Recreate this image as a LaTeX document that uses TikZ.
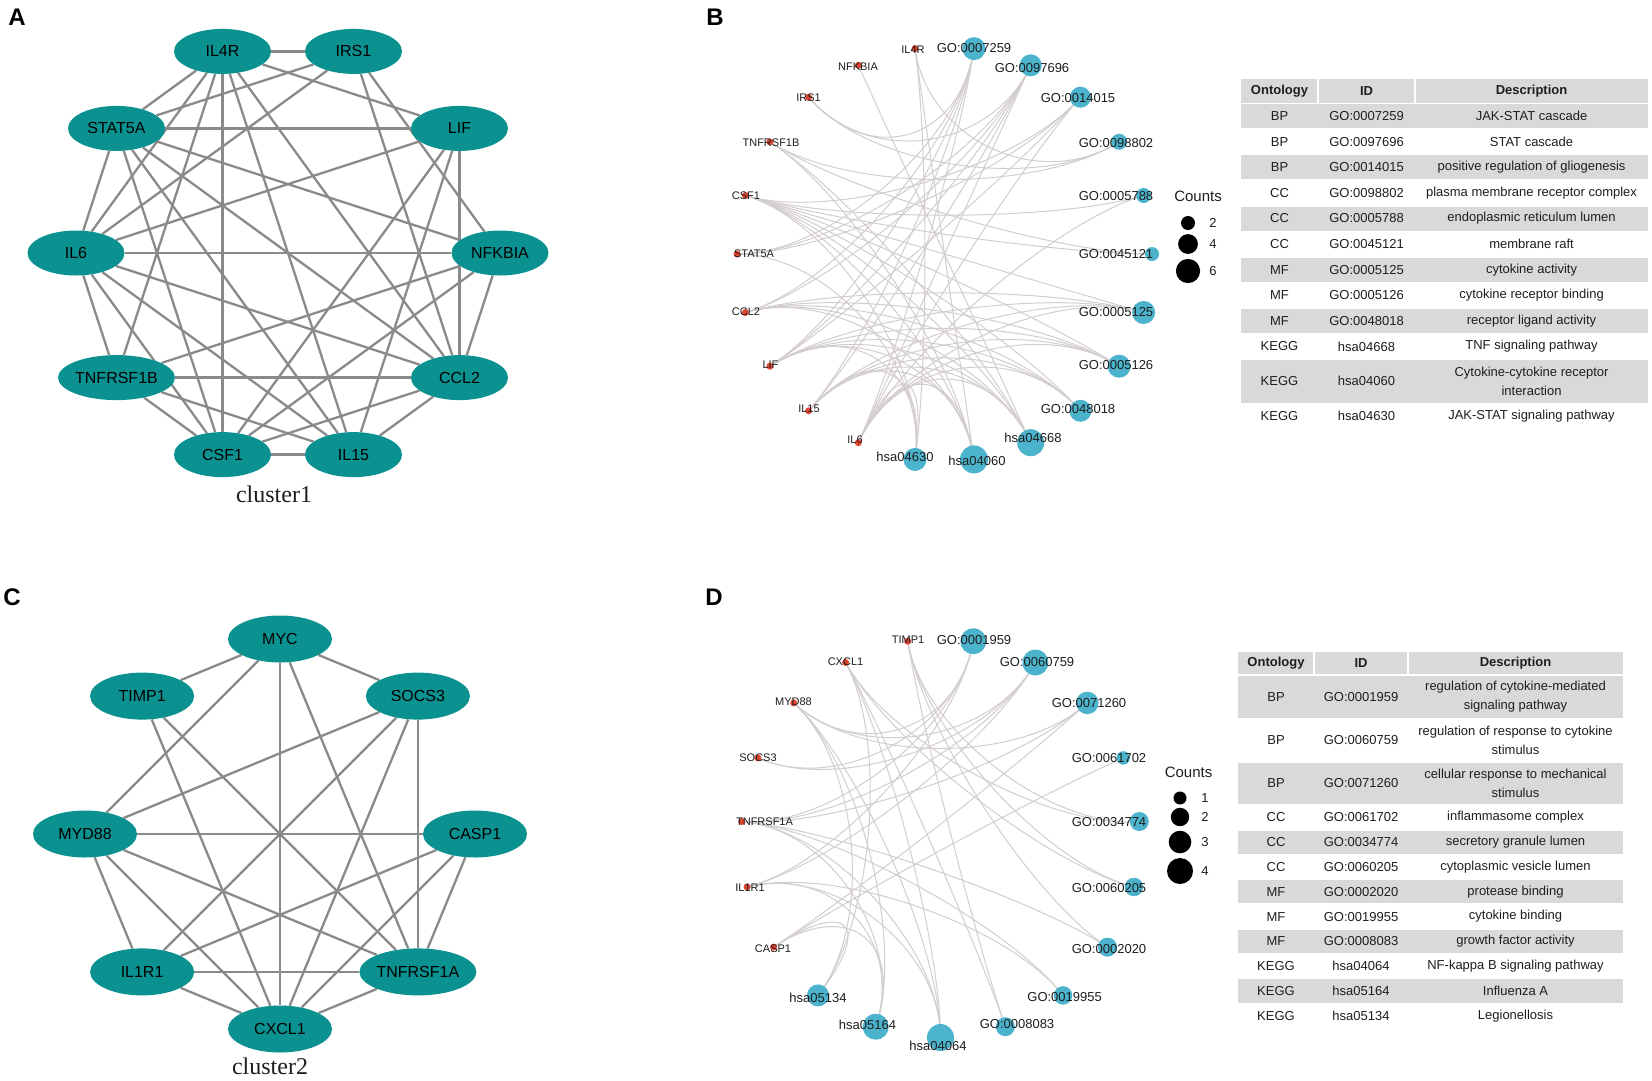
\documentclass[tikz,border=0pt]{standalone}
\usepackage{fontspec}
\setmainfont{Liberation Sans}
\newfontfamily\clusfont{Liberation Serif}
\usetikzlibrary{shapes.geometric,calc}
\pgfdeclarelayer{bg}
\pgfsetlayers{bg,main}
\definecolor{nodeteal}{HTML}{0A9190}
\definecolor{edgegray}{HTML}{8A8A8A}
\definecolor{arcgray}{HTML}{D3CDCD}
\definecolor{dotred}{HTML}{E2452F}
\definecolor{termblue}{HTML}{4CB3CC}
\definecolor{rowgray}{HTML}{D9D9D9}
\definecolor{txt}{HTML}{1E1E1E}
\begin{document}
\begin{tikzpicture}[x=1pt,y=-1pt,
  ppinode/.style={ellipse, fill=nodeteal, minimum width=97pt, minimum height=45pt, inner sep=0pt, font=\fontsize{16}{18}\selectfont},
  ppinodeC/.style={ppinode, minimum width=104pt, minimum height=47pt},
  ppiedge/.style={draw=edgegray, line width=2.3pt},
  gdot/.style={circle, fill=dotred, minimum size=7pt, inner sep=0pt},
  tdot/.style={circle, fill=termblue, inner sep=0pt, minimum size=#1},
  glab/.style={font=\fontsize{11}{13}\selectfont, inner sep=0pt, text=txt},
  tlab/.style={font=\fontsize{13}{15}\selectfont, inner sep=0pt, text=txt},
  arcedge/.style={draw=arcgray, line width=1pt},
  tcell/.style={font=\fontsize{13}{19}\selectfont, text=txt, align=center, inner sep=0pt},
  hcell/.style={tcell, font=\fontsize{13}{19}\selectfont\bfseries},
  plabel/.style={font=\fontsize{24}{26}\selectfont\bfseries, inner sep=0pt},
  cluslab/.style={font=\clusfont\fontsize{24}{26}\selectfont, inner sep=0pt, text=txt},
  legtitle/.style={font=\fontsize{15}{17}\selectfont, inner sep=0pt, text=txt},
  legnum/.style={font=\fontsize{13}{15}\selectfont, inner sep=0pt, text=txt},
  legdot/.style={circle, fill=black, inner sep=0pt, minimum size=#1}
]
\begin{pgfonlayer}{bg}
\path[use as bounding box, fill=white] (0,0) rectangle (1652,1080);
\end{pgfonlayer}

% ---------- panel letters ----------
\node[plabel] (LA) at (17,17) {A};
\node[plabel] (LB) at (715,17) {B};
\node[plabel] (LC) at (12,597) {C};
\node[plabel] (LD) at (714,597) {D};

% ---------- panel A ----------
\node[ppinode] (aIL4R) at (222.5,51.4) {IL4R};
\node[ppinode] (aIRS1) at (353.5,51.4) {IRS1};
\node[ppinode] (aLIF) at (459.5,128.4) {LIF};
\node[ppinode] (aNFKBIA) at (500,253) {NFKBIA};
\node[ppinode] (aCCL2) at (459.5,377.6) {CCL2};
\node[ppinode] (aIL15) at (353.5,454.6) {IL15};
\node[ppinode] (aCSF1) at (222.5,454.6) {CSF1};
\node[ppinode] (aTNFRSF1B) at (116.5,377.6) {TNFRSF1B};
\node[ppinode] (aIL6) at (76,253) {IL6};
\node[ppinode] (aSTAT5A) at (116.5,128.4) {STAT5A};
\node[cluslab] (clus1) at (274,494) {cluster1};
\begin{pgfonlayer}{bg}
\foreach \u/\v in {aIL4R/aIRS1, aIL4R/aLIF, aIL4R/aSTAT5A, aIL4R/aIL6, aIL4R/aTNFRSF1B, aIL4R/aCSF1, aIL4R/aIL15, aIL4R/aCCL2,
  aIRS1/aSTAT5A, aIRS1/aIL6, aIRS1/aCCL2, aIRS1/aNFKBIA,
  aSTAT5A/aLIF, aSTAT5A/aNFKBIA, aSTAT5A/aCCL2, aSTAT5A/aIL15, aSTAT5A/aCSF1, aSTAT5A/aIL6,
  aLIF/aIL6, aLIF/aCCL2, aLIF/aCSF1, aLIF/aIL15,
  aNFKBIA/aIL6, aNFKBIA/aTNFRSF1B, aNFKBIA/aCSF1, aNFKBIA/aCCL2,
  aIL6/aCCL2, aIL6/aIL15, aIL6/aCSF1, aIL6/aTNFRSF1B,
  aTNFRSF1B/aCCL2, aTNFRSF1B/aCSF1, aTNFRSF1B/aIL15,
  aCCL2/aCSF1, aCCL2/aIL15, aCSF1/aIL15}
  \draw[ppiedge] (\u) -- (\v);
\end{pgfonlayer}

% ---------- panel C ----------
\node[ppinodeC] (cMYC) at (280,639) {MYC};
\node[ppinodeC] (cSOCS3) at (417.9,696.1) {SOCS3};
\node[ppinodeC] (cCASP1) at (475,834) {CASP1};
\node[ppinodeC] (cTNFRSF1A) at (417.9,971.9) {TNFRSF1A};
\node[ppinodeC] (cCXCL1) at (280,1029) {CXCL1};
\node[ppinodeC] (cIL1R1) at (142.1,971.9) {IL1R1};
\node[ppinodeC] (cMYD88) at (85,834) {MYD88};
\node[ppinodeC] (cTIMP1) at (142.1,696.1) {TIMP1};
\node[cluslab] (clus2) at (270,1066) {cluster2};
\begin{pgfonlayer}{bg}
\foreach \u/\v in {cMYC/cTIMP1, cMYC/cSOCS3, cMYC/cMYD88, cMYC/cCXCL1, cMYC/cTNFRSF1A,
  cTIMP1/cCXCL1, cTIMP1/cTNFRSF1A,
  cSOCS3/cMYD88, cSOCS3/cIL1R1, cSOCS3/cCXCL1, cSOCS3/cTNFRSF1A,
  cMYD88/cCASP1, cMYD88/cTNFRSF1A, cMYD88/cCXCL1, cMYD88/cIL1R1,
  cCASP1/cIL1R1, cCASP1/cCXCL1, cCASP1/cTNFRSF1A,
  cIL1R1/cTNFRSF1A, cIL1R1/cCXCL1, cTNFRSF1A/cCXCL1}
  \draw[ppiedge] (\u) -- (\v);
\end{pgfonlayer}

% ---------- panel B network ----------
\coordinate (bc) at (944.5,254);
\node[gdot] (bIL4R) at (915.0,48.6) {};
\node[gdot] (bNFKBIA) at (858.3,65.3) {};
\node[gdot] (bIRS1) at (808.6,97.2) {};
\node[gdot] (bTNFRSF1B) at (769.9,141.8) {};
\node[gdot] (bCSF1) at (745.4,195.5) {};
\node[gdot] (bSTAT5A) at (737,254) {};
\node[gdot] (bCCL2) at (745.4,312.5) {};
\node[gdot] (bLIF) at (769.9,366.2) {};
\node[gdot] (bIL15) at (808.6,410.8) {};
\node[gdot] (bIL6) at (858.3,442.7) {};
\node[tdot=23pt] (k4630) at (915.0,459.4) {};
\node[tdot=28pt] (k4060) at (974.0,459.4) {};
\node[tdot=27pt] (k4668) at (1030.7,442.7) {};
\node[tdot=22pt] (go48018) at (1080.4,410.8) {};
\node[tdot=23pt] (go5126) at (1119.1,366.2) {};
\node[tdot=23pt] (go5125) at (1143.6,312.5) {};
\node[tdot=14pt] (go45121) at (1152,254) {};
\node[tdot=15pt] (go5788) at (1143.6,195.5) {};
\node[tdot=16pt] (go98802) at (1119.1,141.8) {};
\node[tdot=21pt] (go14015) at (1080.4,97.2) {};
\node[tdot=22pt] (go97696) at (1030.7,65.3) {};
\node[tdot=23pt] (go7259) at (974.0,48.6) {};
\node[glab] (lbIL4R) at (913,50) {IL4R};
\node[glab] (lbNFKBIA) at (858,67) {NFKBIA};
\node[glab] (lbIRS1) at (808.6,98) {IRS1};
\node[glab] (lbTNFRSF1B) at (771,143) {TNFRSF1B};
\node[glab] (lbCSF1) at (746,196) {CSF1};
\node[glab] (lbSTAT5A) at (754,254) {STAT5A};
\node[glab] (lbCCL2) at (746,312) {CCL2};
\node[glab] (lbLIF) at (770.5,365) {LIF};
\node[glab] (lbIL15) at (809,409) {IL15};
\node[glab] (lbIL6) at (855,440) {IL6};
\node[tlab] (lk4630) at (905,457) {hsa04630};
\node[tlab] (lk4060) at (977,461) {hsa04060};
\node[tlab] (lk4668) at (1033,438) {hsa04668};
\node[tlab] (lgo48018) at (1078,409) {GO:0048018};
\node[tlab] (lgo5126) at (1116,365) {GO:0005126};
\node[tlab] (lgo5125) at (1116,312) {GO:0005125};
\node[tlab] (lgo45121) at (1116,254) {GO:0045121};
\node[tlab] (lgo5788) at (1116,196) {GO:0005788};
\node[tlab] (lgo98802) at (1116,143) {GO:0098802};
\node[tlab] (lgo14015) at (1078,98) {GO:0014015};
\node[tlab] (lgo97696) at (1032,68) {GO:0097696};
\node[tlab] (lgo7259) at (974,48) {GO:0007259};
\begin{pgfonlayer}{bg}
\foreach \g/\t in {bIL4R/k4060, bIL4R/k4630, bIL4R/go98802, bNFKBIA/k4668, bIRS1/go98802, bIRS1/go7259, bIRS1/go97696,
  bTNFRSF1B/k4668, bTNFRSF1B/k4060, bTNFRSF1B/go45121, bTNFRSF1B/go98802,
  bCSF1/go14015, bCSF1/go5788, bCSF1/go45121, bCSF1/go5125, bCSF1/go5126, bCSF1/go48018, bCSF1/k4668, bCSF1/k4060, bCSF1/k4630,
  bSTAT5A/go7259, bSTAT5A/go97696, bSTAT5A/k4630, bSTAT5A/go14015,
  bCCL2/go5125, bCCL2/go5126, bCCL2/go48018, bCCL2/k4668, bCCL2/k4060, bCCL2/go7259, bCCL2/go97696,
  bLIF/go5125, bLIF/go5126, bLIF/go48018, bLIF/k4668, bLIF/k4060, bLIF/k4630, bLIF/go7259, bLIF/go97696, bLIF/go14015,
  bIL15/go5125, bIL15/go5126, bIL15/go48018, bIL15/k4668, bIL15/k4060, bIL15/k4630, bIL15/go7259, bIL15/go97696,
  bIL6/go5125, bIL6/go5126, bIL6/go48018, bIL6/k4668, bIL6/k4060, bIL6/k4630, bIL6/go7259, bIL6/go97696, bIL6/go14015, bIL6/go5788}
  \draw[arcedge] (\g.center) .. controls ($(\g)!0.45!(bc)$) and ($(\t)!0.45!(bc)$) .. (\t.center);
\end{pgfonlayer}
% legend B
\node[legtitle] (legB) at (1198,196) {Counts};
\node[legdot=14pt] (lb2) at (1188,223) {};
\node[legdot=19.8pt] (lb4) at (1188,244) {};
\node[legdot=24.2pt] (lb6) at (1188,271) {};
\node[legnum] (nb2) at (1213,223) {2};
\node[legnum] (nb4) at (1213,244) {4};
\node[legnum] (nb6) at (1213,271) {6};

% ---------- panel D network ----------
\coordinate (dc) at (940.5,838);
\node[gdot] (dTIMP1) at (907.7,641.2) {};
\node[gdot] (dCXCL1) at (845.6,662.5) {};
\node[gdot] (dMYD88) at (793.7,702.9) {};
\node[gdot] (dSOCS3) at (757.8,757.9) {};
\node[gdot] (dTNFRSF1A) at (741.7,821.5) {};
\node[gdot] (dIL1R1) at (747.1,887.0) {};
\node[gdot] (dCASP1) at (773.5,947.1) {};
\node[tdot=22pt] (k5134) at (818.0,995.4) {};
\node[tdot=26pt] (k5164) at (875.7,1026.7) {};
\node[tdot=27pt] (k4064) at (940.5,1037.5) {};
\node[tdot=19pt] (go8083) at (1005.3,1026.7) {};
\node[tdot=18.5pt] (go19955) at (1063.0,995.4) {};
\node[tdot=19pt] (go2020) at (1107.5,947.1) {};
\node[tdot=18.5pt] (go60205) at (1133.9,887.0) {};
\node[tdot=19pt] (go34774) at (1139.3,821.5) {};
\node[tdot=13.5pt] (go61702) at (1123.2,757.9) {};
\node[tdot=22.5pt] (go71260) at (1087.3,702.9) {};
\node[tdot=26pt] (go60759) at (1035.4,662.5) {};
\node[tdot=26pt] (go1959) at (973.3,641.2) {};
\node[glab] (ldTIMP1) at (908,640) {TIMP1};
\node[glab] (ldCXCL1) at (845.5,662) {CXCL1};
\node[glab] (ldMYD88) at (793.5,702) {MYD88};
\node[glab] (ldSOCS3) at (758,758) {SOCS3};
\node[glab] (ldTNFRSF1A) at (764.5,822) {TNFRSF1A};
\node[glab] (ldIL1R1) at (750,888) {IL1R1};
\node[glab] (ldCASP1) at (773,949) {CASP1};
\node[tlab] (lk5134) at (818,998) {hsa05134};
\node[tlab] (lk5164) at (867.5,1025) {hsa05164};
\node[tlab] (lk4064) at (938,1046) {hsa04064};
\node[tlab] (lgo8083) at (1017,1024) {GO:0008083};
\node[tlab] (lgo19955) at (1064.6,997) {GO:0019955};
\node[tlab] (lgo2020) at (1109,949) {GO:0002020};
\node[tlab] (lgo60205) at (1109,888) {GO:0060205};
\node[tlab] (lgo34774) at (1109,822) {GO:0034774};
\node[tlab] (lgo61702) at (1109,758) {GO:0061702};
\node[tlab] (lgo71260) at (1089,703) {GO:0071260};
\node[tlab] (lgo60759) at (1037,662) {GO:0060759};
\node[tlab] (lgo1959) at (974,640) {GO:0001959};
\begin{pgfonlayer}{bg}
\foreach \g/\t in {dTIMP1/go34774, dTIMP1/go60205, dTIMP1/go2020, dTIMP1/go8083,
  dCXCL1/go34774, dCXCL1/go60205, dCXCL1/go8083, dCXCL1/k4064, dCXCL1/k5134,
  dMYD88/go1959, dMYD88/go60759, dMYD88/go71260, dMYD88/k4064, dMYD88/k5164, dMYD88/k5134,
  dSOCS3/go1959, dSOCS3/go60759,
  dTNFRSF1A/go1959, dTNFRSF1A/go60759, dTNFRSF1A/go71260, dTNFRSF1A/go2020, dTNFRSF1A/go19955, dTNFRSF1A/k4064, dTNFRSF1A/k5164,
  dIL1R1/go1959, dIL1R1/go60759, dIL1R1/go19955, dIL1R1/k4064, dIL1R1/k5164,
  dCASP1/go71260, dCASP1/go61702, dCASP1/k5164, dCASP1/k5134}
  \draw[arcedge] (\g.center) .. controls ($(\g)!0.45!(dc)$) and ($(\t)!0.45!(dc)$) .. (\t.center);
\end{pgfonlayer}
% legend D
\node[legtitle] (legD) at (1188.5,772) {Counts};
\node[legdot=13pt] (ld1) at (1180,798) {};
\node[legdot=18.4pt] (ld2) at (1180,817) {};
\node[legdot=22.6pt] (ld3) at (1180,842) {};
\node[legdot=26pt] (ld4) at (1180,871) {};
\node[legnum] (nd1) at (1205,798) {1};
\node[legnum] (nd2) at (1205,817) {2};
\node[legnum] (nd3) at (1205,842) {3};
\node[legnum] (nd4) at (1205,871) {4};

% ---------- table B ----------
\fill[rowgray] (1241,79.3) rectangle (1317,102.5);
\fill[rowgray] (1319,79.3) rectangle (1414,102.5);
\fill[rowgray] (1416,79.3) rectangle (1648,102.5);
\foreach \a/\b in {104.1/128.1, 155.3/179.3, 206.5/230.5, 257.7/281.7, 308.9/332.9, 360.1/402.5}
  \fill[rowgray] (1241,\a) rectangle (1648,\b);
\node[hcell] (tBh1) at (1279.5,91.3) {Ontology};
\node[hcell] (tBh2) at (1366.5,91.3) {ID};
\node[hcell] (tBh3) at (1531.5,91.3) {Description};
\foreach \y/\o/\i/\d [count=\n] in {116.1/BP/GO:0007259/JAK-STAT cascade,
  141.7/BP/GO:0097696/STAT cascade,
  167.3/BP/GO:0014015/positive regulation of gliogenesis,
  192.9/CC/GO:0098802/plasma membrane receptor complex,
  218.5/CC/GO:0005788/endoplasmic reticulum lumen,
  244.1/CC/GO:0045121/membrane raft,
  269.7/MF/GO:0005125/cytokine activity,
  295.3/MF/GO:0005126/cytokine receptor binding,
  320.9/MF/GO:0048018/receptor ligand activity,
  346.5/KEGG/hsa04668/TNF signaling pathway,
  381.3/KEGG/hsa04060/{Cytokine-cytokine receptor\\interaction},
  415.8/KEGG/hsa04630/JAK-STAT signaling pathway}
{
  \node[tcell] (tB\n o) at (1279.5,\y) {\o};
  \node[tcell] (tB\n i) at (1366.5,\y) {\i};
  \node[tcell] (tB\n d) at (1531.5,\y) {\d};
}

% ---------- table D ----------
\fill[rowgray] (1238,651.7) rectangle (1313,674.2);
\fill[rowgray] (1315,651.7) rectangle (1407,674.2);
\fill[rowgray] (1409,651.7) rectangle (1623,674.2);
\foreach \a/\b in {675.8/717.5, 762.5/804.2, 830.6/853.8, 880.2/903.4, 929.8/953, 979.4/1002.6}
  \fill[rowgray] (1238,\a) rectangle (1623,\b);
\node[hcell] (tDh1) at (1276,663.3) {Ontology};
\node[hcell] (tDh2) at (1361,663.3) {ID};
\node[hcell] (tDh3) at (1515.5,663.3) {Description};
\foreach \y/\o/\i/\d [count=\n] in {696.7/BP/GO:0001959/{regulation of cytokine-mediated\\signaling pathway},
  740/BP/GO:0060759/{regulation of response to cytokine\\stimulus},
  783.3/BP/GO:0071260/{cellular response to mechanical\\stimulus},
  817.4/CC/GO:0061702/inflammasome complex,
  842.2/CC/GO:0034774/secretory granule lumen,
  867/CC/GO:0060205/cytoplasmic vesicle lumen,
  891.8/MF/GO:0002020/protease binding,
  916.6/MF/GO:0019955/cytokine binding,
  941.4/MF/GO:0008083/growth factor activity,
  966.2/KEGG/hsa04064/NF-kappa B signaling pathway,
  991/KEGG/hsa05164/Influenza A,
  1015.8/KEGG/hsa05134/Legionellosis}
{
  \node[tcell] (tD\n o) at (1276,\y) {\o};
  \node[tcell] (tD\n i) at (1361,\y) {\i};
  \node[tcell] (tD\n d) at (1515.5,\y) {\d};
}
\end{tikzpicture}
\end{document}
